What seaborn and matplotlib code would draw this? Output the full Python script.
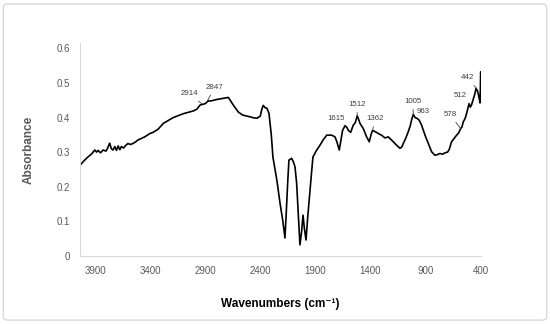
import matplotlib.pyplot as plt
import pandas as pd
import seaborn as sns
from matplotlib.patches import FancyBboxPatch

wavenumbers = [
    4036, 4000, 3964, 3930, 3903, 3885, 3873, 3850, 3827, 3800, 3785, 3767,
    3752, 3737, 3720, 3705, 3690, 3675, 3661, 3640, 3620, 3600, 3580, 3555,
    3530, 3510, 3449, 3401, 3374, 3328, 3280, 3189, 3099, 3008, 2975, 2947,
    2923, 2900, 2872, 2847, 2796, 2740, 2690, 2645, 2600, 2560, 2520, 2493,
    2460, 2430, 2400, 2385, 2373, 2355, 2340, 2321, 2300, 2285, 2250, 2221,
    2195, 2176, 2165, 2150, 2140, 2115, 2100, 2085, 2070, 2055, 2040, 2025,
    2012, 2000, 1985, 1970, 1949, 1935, 1922, 1890, 1858, 1830, 1797, 1768,
    1752, 1722, 1705, 1683, 1665, 1653, 1631, 1615, 1601, 1580, 1556, 1538,
    1520, 1508, 1495, 1465, 1435, 1411, 1395, 1381, 1362, 1345, 1320, 1299,
    1269, 1239, 1215, 1193, 1163, 1132, 1115, 1102, 1080, 1057, 1040, 1025,
    1011, 995, 975, 957, 936, 905, 875, 845, 815, 790, 769, 745, 724, 700,
    685, 664, 640, 618, 600, 582, 570, 558, 540, 528, 512, 504, 495, 483,
    465, 452, 442, 430, 422, 410, 406, 402, 400,
]
absorbance = [
    0.262, 0.275, 0.286, 0.295, 0.306, 0.300, 0.305, 0.298, 0.306, 0.303, 0.312, 0.326,
    0.310, 0.306, 0.316, 0.305, 0.318, 0.307, 0.316, 0.312, 0.320, 0.325, 0.322, 0.325,
    0.330, 0.335, 0.344, 0.354, 0.357, 0.366, 0.383, 0.400, 0.411, 0.419, 0.424, 0.436,
    0.438, 0.440, 0.448, 0.448, 0.452, 0.455, 0.458, 0.436, 0.416, 0.407, 0.404, 0.402,
    0.399, 0.398, 0.404, 0.425, 0.435, 0.428, 0.427, 0.412, 0.350, 0.285, 0.220, 0.153,
    0.100, 0.052, 0.120, 0.220, 0.277, 0.282, 0.272, 0.258, 0.210, 0.120, 0.032, 0.070,
    0.118, 0.080, 0.046, 0.110, 0.190, 0.240, 0.286, 0.305, 0.320, 0.335, 0.349, 0.349,
    0.349, 0.344, 0.330, 0.306, 0.340, 0.363, 0.376, 0.372, 0.363, 0.357, 0.378, 0.385,
    0.405, 0.395, 0.383, 0.368, 0.344, 0.330, 0.350, 0.363, 0.360, 0.357, 0.352, 0.349,
    0.341, 0.344, 0.337, 0.330, 0.320, 0.311, 0.315, 0.325, 0.340, 0.359, 0.375, 0.395,
    0.409, 0.400, 0.397, 0.392, 0.378, 0.349, 0.325, 0.301, 0.291, 0.293, 0.296, 0.294, 0.298, 0.300,
    0.308, 0.330, 0.340, 0.349, 0.355, 0.368, 0.372, 0.387, 0.398, 0.411, 0.432, 0.440, 0.430, 0.436,
    0.455, 0.469, 0.484, 0.478, 0.469, 0.450, 0.442, 0.490, 0.532,
]

# peak labels: (text, point on curve, label position)
peak_labels = ["2914", "2847", "1615", "1512", "1362", "1005", "963", "578", "512", "442"]
peak_points = [(2932, 0.440), (2881, 0.448), (1631, 0.376), (1520, 0.405), (1380, 0.363),
               (1011, 0.409), (957, 0.392), (582, 0.368), (504, 0.440), (437, 0.484)]
label_pos = [(3047, 0.469), (2811, 0.488), (1713, 0.398), (1525, 0.438), (1359, 0.397),
             (1018, 0.447), (921, 0.416), (679, 0.409), (582, 0.464), (522, 0.515)]

xticks = [3900, 3400, 2900, 2400, 1900, 1400, 900, 400]
yticks = [0, 0.1, 0.2, 0.3, 0.4, 0.5, 0.6]

df = pd.DataFrame({"wn": wavenumbers, "abs": absorbance})

sns.set_style("white")
plt.rcParams["font.family"] = ["Liberation Sans", "DejaVu Sans"]

fig = plt.figure(figsize=(5.5, 3.24), dpi=100)
ax = fig.add_axes([0.1455, 0.21, 0.729, 0.657])

sns.lineplot(data=df, x="wn", y="abs", sort=False, estimator=None,
             color="black", linewidth=1.2, ax=ax)

for text, pt, pos in zip(peak_labels, peak_points, label_pos):
    ax.annotate(text, xy=pt, xytext=pos, ha="center", va="center",
                fontsize=5.7, color="#404040",
                arrowprops=dict(arrowstyle="-", color="#404040", lw=0.6,
                                shrinkA=1, shrinkB=0))

ax.set_xlim(4036, 397)
ax.set_ylim(0, 0.615)
ax.set_xticks(xticks)
ax.set_xticklabels([str(t) for t in xticks])
ax.set_yticks(yticks)
ax.set_yticklabels(["0" if t == 0 else f"{t:.1f}" for t in yticks])
ax.tick_params(axis="both", length=0, labelsize=7, labelcolor="#595959", pad=7)

for side in ["top", "right"]:
    ax.spines[side].set_visible(False)
for side in ["left", "bottom"]:
    ax.spines[side].set_color("#d9d9d9")
    ax.spines[side].set_linewidth(0.8)

ax.set_xlabel("Wavenumbers (cm\u207b\u00b9)", fontsize=8.5, fontweight="bold",
              color="black", labelpad=16)
ax.set_ylabel("Absorbance", fontsize=8.5, fontweight="bold", color="#595959",
              labelpad=16)

border = FancyBboxPatch((0.006, 0.012), 0.988, 0.976, boxstyle="round,pad=0,rounding_size=0.01",
                        transform=fig.transFigure, fill=False,
                        edgecolor="#d9d9d9", linewidth=1)
fig.patches.append(border)

fig.savefig("out.png", dpi=100)
